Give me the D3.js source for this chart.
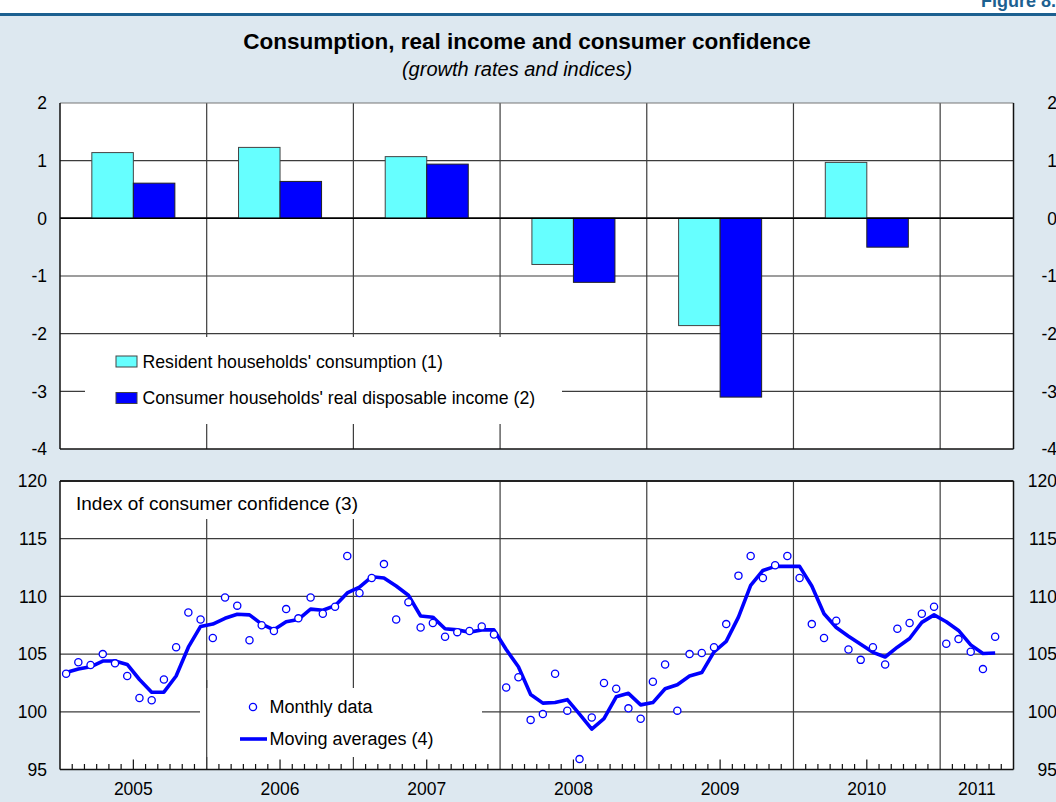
<!DOCTYPE html>
<html><head><meta charset="utf-8">
<script src="https://cdn.jsdelivr.net/npm/d3@7"></script>
<style>body{margin:0;background:#fff}svg{display:block;font-family:"Liberation Sans",Arial,sans-serif}</style>
</head><body><svg id="c" width="1056" height="802"></svg>
<script>
// ---------- data ----------
const years = ["2005","2006","2007","2008","2009","2010","2011"];
const barYears = ["2005","2006","2007","2008","2009","2010"];
const consumption = [1.14, 1.23, 1.07, -0.80, -1.86, 0.97];
const income = [0.61, 0.64, 0.94, -1.11, -3.10, -0.50];
const monthly = [
  103.3, 104.3, 104.05, 105.0, 104.2, 103.1, 101.2, 101.0, 102.8, 105.6, 108.6, 108.0,
  106.4, 109.9, 109.2, 106.2, 107.5, 107.0, 108.9, 108.1, 109.9, 108.5, 109.1, 113.5,
  110.3, 111.6, 112.8, 108.0, 109.5, 107.3, 107.7, 106.5, 106.9, 107.0, 107.4, 106.7,
  102.1, 103.0, 99.3, 99.8, 103.3, 100.1, 95.9, 99.5, 102.5, 102.0, 100.3, 99.4,
  102.6, 104.1, 100.1, 105.0, 105.1, 105.6, 107.6, 111.8, 113.5, 111.6, 112.7, 113.5,
  111.6, 107.6, 106.4, 107.9, 105.4, 104.5, 105.6, 104.1, 107.2, 107.7, 108.5, 109.1,
  105.9, 106.3, 105.2, 103.7, 106.5
];
const movingAvg = [
  103.4, 103.7, 103.9, 104.4, 104.4, 104.1, 102.8, 101.7, 101.7, 103.1, 105.6, 107.4,
  107.6, 108.1, 108.45, 108.4, 107.6, 107.1, 107.8, 108.0, 108.9, 108.8, 109.2, 110.3,
  110.8, 111.7, 111.6, 110.9, 110.1, 108.3, 108.2, 107.2, 107.1, 106.9, 107.1, 107.1,
  105.4, 103.9, 101.5, 100.75, 100.8, 101.05, 99.8, 98.5, 99.4, 101.3, 101.6, 100.6,
  100.8, 102.0, 102.35, 103.1, 103.4, 105.2, 106.1, 108.2, 110.95, 112.25, 112.6, 112.6,
  112.6, 110.9, 108.5, 107.3, 106.55, 105.85, 105.15, 104.75, 105.6, 106.35, 107.75, 108.4,
  107.8, 107.05, 105.8, 105.05, 105.1
];
const topTicks = [2, 1, 0, -1, -2, -3, -4];
const bottomTicks = [120, 115, 110, 105, 100, 95];
const legendTop = ["Resident households' consumption (1)", "Consumer households' real disposable income (2)"];
const legendBottom = ["Monthly data", "Moving averages (4)"];

// ---------- layout ----------
const svg = d3.select("#c");
const W = 1056, H = 802;
const L = 60, R = 1013.5;
const nMonths = 78;
const x = d3.scaleLinear().domain([0, nMonths]).range([L, R]);
const yTop = d3.scaleLinear().domain([-4, 2]).range([449, 103]);
const yBot = d3.scaleLinear().domain([95, 120]).range([769.5, 481]);
const gridCol = "#3c3c3c";
const navy = "#1c6090";

svg.append("rect").attr("width", W).attr("height", H).attr("fill", "#fff");
svg.append("rect").attr("y", 15).attr("width", W).attr("height", H - 15).attr("fill", "#dde8f0");
svg.append("line").attr("x1", 0).attr("x2", W).attr("y1", 14.5).attr("y2", 14.5).attr("stroke", navy).attr("stroke-width", 3);
svg.append("text").attr("x", 1056).attr("y", 7).attr("text-anchor", "end").attr("font-weight", "bold")
  .attr("font-size", 18).attr("fill", navy).text("Figure 8.");

svg.append("text").attr("x", 527).attr("y", 49).attr("text-anchor", "middle").attr("font-weight", "bold")
  .attr("font-size", 22.5).attr("fill", "#000").text("Consumption, real income and consumer confidence");
svg.append("text").attr("x", 517).attr("y", 76).attr("text-anchor", "middle").attr("font-style", "italic")
  .attr("font-size", 20).attr("fill", "#000").text("(growth rates and indices)");

const yearIdx = d3.range(1, 7); // boundaries between years

// ---------- top panel ----------
const gT = svg.append("g");
gT.append("rect").attr("x", L).attr("y", yTop(2)).attr("width", R - L).attr("height", yTop(-4) - yTop(2)).attr("fill", "#fff");
gT.selectAll(".hg").data(topTicks.filter(t => t < 2 && t > -4)).join("line")
  .attr("x1", L).attr("x2", R).attr("y1", d => yTop(d)).attr("y2", d => yTop(d))
  .attr("stroke", d => d === 0 ? "#000" : gridCol).attr("stroke-width", d => d === 0 ? 1.5 : 1.2);
gT.selectAll(".vg").data(yearIdx).join("line")
  .attr("x1", d => x(d * 12)).attr("x2", d => x(d * 12)).attr("y1", yTop(2)).attr("y2", yTop(-4))
  .attr("stroke", gridCol).attr("stroke-width", 1.2);

const yearW = x(12) - x(0);
const bw = yearW * 0.283;
const bars = gT.selectAll(".bg").data(barYears).join("g");
bars.append("rect")
  .attr("x", (d, i) => x(i * 12 + 6) - bw)
  .attr("y", (d, i) => yTop(Math.max(0, consumption[i])))
  .attr("width", bw).attr("height", (d, i) => Math.abs(yTop(consumption[i]) - yTop(0)))
  .attr("fill", "#66ffff").attr("stroke", "#444").attr("stroke-width", 1);
bars.append("rect")
  .attr("x", (d, i) => x(i * 12 + 6))
  .attr("y", (d, i) => yTop(Math.max(0, income[i])))
  .attr("width", bw).attr("height", (d, i) => Math.abs(yTop(income[i]) - yTop(0)))
  .attr("fill", "#0000ff").attr("stroke", "#222").attr("stroke-width", 1);
gT.append("line").attr("x1", L).attr("x2", R).attr("y1", yTop(0)).attr("y2", yTop(0)).attr("stroke", "#000").attr("stroke-width", 1.5);

// legend box
gT.append("rect").attr("x", 85).attr("y", 337).attr("width", 477).attr("height", 87).attr("fill", "#fff");
const legT = gT.selectAll(".lt").data(legendTop).join("g").attr("transform", (d, i) => `translate(116,${361.5 + i * 36.5})`);
legT.append("rect").attr("x", 0).attr("y", -5.5).attr("width", 21).attr("height", 11)
  .attr("fill", (d, i) => i === 0 ? "#66ffff" : "#0000ff").attr("stroke", "#444").attr("stroke-width", 1);
legT.append("text").attr("x", 26.5).attr("dy", "0.36em").attr("font-size", 17.7).text(d => d);

// frame
gT.append("line").attr("x1", L).attr("x2", R).attr("y1", yTop(2)).attr("y2", yTop(2)).attr("stroke", "#777").attr("stroke-width", 1.2);
gT.append("line").attr("x1", L).attr("x2", R).attr("y1", yTop(-4)).attr("y2", yTop(-4)).attr("stroke", "#111").attr("stroke-width", 1.5);
gT.append("line").attr("x1", L).attr("x2", L).attr("y1", yTop(2)).attr("y2", yTop(-4)).attr("stroke", "#111").attr("stroke-width", 1.5);
gT.append("line").attr("x1", R).attr("x2", R).attr("y1", yTop(2)).attr("y2", yTop(-4)).attr("stroke", "#111").attr("stroke-width", 1.5);
gT.selectAll(".tl").data(topTicks).join("text").attr("x", 47).attr("y", d => yTop(d)).attr("dy", "0.36em")
  .attr("text-anchor", "end").attr("font-size", 17.5).text(d => d);
gT.selectAll(".tr").data(topTicks).join("text").attr("x", 1057).attr("y", d => yTop(d)).attr("dy", "0.36em")
  .attr("text-anchor", "end").attr("font-size", 17.5).text(d => d);

// ---------- bottom panel ----------
const gB = svg.append("g");
gB.append("rect").attr("x", L).attr("y", yBot(120)).attr("width", R - L).attr("height", yBot(95) - yBot(120)).attr("fill", "#fff");
gB.selectAll(".hg").data(bottomTicks.filter(t => t < 120 && t > 95)).join("line")
  .attr("x1", L).attr("x2", R).attr("y1", d => yBot(d)).attr("y2", d => yBot(d))
  .attr("stroke", gridCol).attr("stroke-width", 1.2);
gB.selectAll(".vg").data(yearIdx).join("line")
  .attr("x1", d => x(d * 12)).attr("x2", d => x(d * 12)).attr("y1", yBot(120)).attr("y2", yBot(95))
  .attr("stroke", gridCol).attr("stroke-width", 1.2);

// title box
gB.append("rect").attr("x", L + 1).attr("y", yBot(120) + 1).attr("width", 314).attr("height", 37).attr("fill", "#fff");
gB.append("text").attr("x", 76).attr("y", 503).attr("dy", "0.36em").attr("font-size", 19).text("Index of consumer confidence (3)");

// legend box
gB.append("rect").attr("x", 200).attr("y", 688).attr("width", 282).attr("height", 69).attr("fill", "#fff");
gB.append("line").attr("x1", x(12)).attr("x2", x(12)).attr("y1", 680).attr("y2", yBot(95)).attr("stroke", gridCol).attr("stroke-width", 1.2);

// data
const line = d3.line().x((d, i) => x(i + 0.5)).y(d => yBot(d));
gB.append("path").datum(movingAvg).attr("d", line).attr("fill", "none").attr("stroke", "#0000ff")
  .attr("stroke-width", 3.6).attr("stroke-linejoin", "round");
gB.selectAll(".pt").data(monthly).join("circle")
  .attr("cx", (d, i) => x(i + 0.5)).attr("cy", d => yBot(d)).attr("r", 3.6)
  .attr("fill", "#fff").attr("stroke", "#0000ff").attr("stroke-width", 1.3);

// legend
gB.append("circle").attr("cx", 253).attr("cy", 707).attr("r", 3.6).attr("fill", "#fff").attr("stroke", "#0000ff").attr("stroke-width", 1.3);
gB.append("line").attr("x1", 240).attr("x2", 267).attr("y1", 739).attr("y2", 739).attr("stroke", "#0000ff").attr("stroke-width", 3.6);
gB.selectAll(".lb").data(legendBottom).join("text").attr("x", 269.5).attr("y", (d, i) => 707 + i * 32).attr("dy", "0.36em")
  .attr("font-size", 18).text(d => d);

// frame
gB.append("line").attr("x1", L).attr("x2", R).attr("y1", yBot(120)).attr("y2", yBot(120)).attr("stroke", "#222").attr("stroke-width", 2);
gB.append("line").attr("x1", L).attr("x2", R).attr("y1", yBot(95)).attr("y2", yBot(95)).attr("stroke", "#111").attr("stroke-width", 1.5);
gB.append("line").attr("x1", L).attr("x2", L).attr("y1", yBot(120)).attr("y2", yBot(95)).attr("stroke", "#111").attr("stroke-width", 1.5);
gB.append("line").attr("x1", R).attr("x2", R).attr("y1", yBot(120)).attr("y2", yBot(95)).attr("stroke", "#111").attr("stroke-width", 1.5);

// month ticks
gB.selectAll(".mt").data(d3.range(1, nMonths).filter(m => m % 12 !== 0)).join("line")
  .attr("x1", d => x(d)).attr("x2", d => x(d)).attr("y1", yBot(95))
  .attr("y2", d => yBot(95) - (d % 12 === 6 ? 10 : 5.5))
  .attr("stroke", "#111").attr("stroke-width", 1.2);

// year labels
gB.selectAll(".yl").data(years).join("text")
  .attr("x", (d, i) => (x(i * 12) + Math.min(x(i * 12 + 12), R)) / 2)
  .attr("y", 789).attr("dy", "0.36em").attr("text-anchor", "middle").attr("font-size", 17.5).text(d => d);
gB.selectAll(".tl").data(bottomTicks).join("text").attr("x", 47).attr("y", d => yBot(d)).attr("dy", "0.36em")
  .attr("text-anchor", "end").attr("font-size", 17.5).text(d => d);
gB.selectAll(".tr").data(bottomTicks).join("text").attr("x", 1057).attr("y", d => yBot(d)).attr("dy", "0.36em")
  .attr("text-anchor", "end").attr("font-size", 17.5).text(d => d);
</script></body></html>
